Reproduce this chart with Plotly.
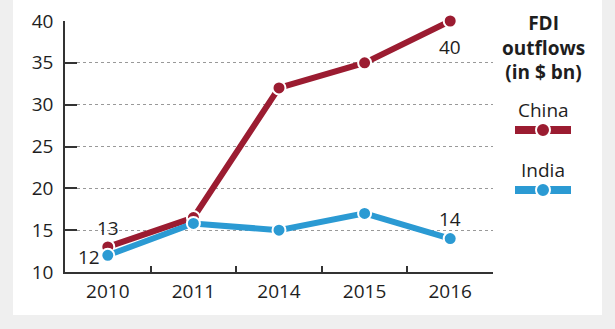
import plotly.graph_objects as go

years = ["2010", "2011", "2014", "2015", "2016"]
china = [13, 16.5, 32, 35, 40]
india = [12, 15.8, 15, 17, 14]
y_ticks = [10, 15, 20, 25, 30, 35, 40]

CHINA = "#9b1c31"
INDIA = "#2b9ad3"
TXT = "#1e1e1e"
FONT = "Open Sans"

W, H = 615, 329
def px(x):
    return x / W
def py(y):
    return (H - y) / H

fig = go.Figure()
for name, vals, col in [("China", china, CHINA), ("India", india, INDIA)]:
    fig.add_trace(go.Scatter(
        x=years, y=vals, mode="lines+markers", name=name,
        line=dict(color=col, width=6),
        marker=dict(size=13, color=col, line=dict(color="white", width=2)),
        cliponaxis=False, showlegend=False,
    ))

annotations = []
# value labels
labels = [
    (0, china[0], "13", 0, 19),
    (0, india[0], "12", -19, -2),
    (4, china[4], "40", 0, -26),
    (4, india[4], "14", 0, 20),
]
for xi, yv, t, xs, ys in labels:
    annotations.append(dict(xref="x", yref="y", x=xi, y=yv, text=t, showarrow=False,
                            xshift=xs, yshift=ys, xanchor="center", yanchor="middle",
                            font=dict(family=FONT, size=19, color=TXT)))

shapes = [
    dict(type="rect", xref="paper", yref="paper", x0=px(13), x1=px(602), y0=py(315), y1=1,
         fillcolor="white", line=dict(width=0), layer="below"),
]
# legend block
leg_x = 543
annotations.append(dict(xref="paper", yref="paper", x=px(leg_x), y=py(47),
                        text="<b>FDI<br>outflows<br>(in $ bn)</b>",
                        showarrow=False, align="center", xanchor="center", yanchor="middle",
                        font=dict(family=FONT, size=19, color=TXT)))
for name, col, ty, sy in [("China", CHINA, 110, 130), ("India", INDIA, 170, 190)]:
    annotations.append(dict(xref="paper", yref="paper", x=px(leg_x), y=py(ty), text=name,
                            showarrow=False, xanchor="center", yanchor="middle",
                            font=dict(family=FONT, size=19, color=TXT)))
    shapes.append(dict(type="line", xref="paper", yref="paper", x0=px(515), x1=px(571),
                       y0=py(sy), y1=py(sy), line=dict(color=col, width=8)))
    shapes.append(dict(type="circle", xref="paper", yref="paper", x0=px(leg_x - 7), x1=px(leg_x + 7),
                       y0=py(sy + 7), y1=py(sy - 7), fillcolor=col, line=dict(color="white", width=2)))

fig.update_layout(
    width=W, height=H, margin=dict(l=0, r=0, t=0, b=0, autoexpand=False),
    paper_bgcolor="#efefef", plot_bgcolor="white",
    shapes=shapes, annotations=annotations,
    xaxis=dict(domain=[px(65), px(493)], range=[-0.5, 4.5], type="category", automargin=False,
               showgrid=False, showline=True, linecolor="#333", linewidth=1.5,
               ticks="inside", tickson="boundaries", ticklen=6, tickcolor="#333", tickwidth=1.5,
               tickfont=dict(family=FONT, size=19, color=TXT), ticklabelstandoff=1, zeroline=False),
    yaxis=dict(domain=[py(272), py(21)], range=[10, 40], tickvals=y_ticks, automargin=False,
               showgrid=True, gridcolor="#999", griddash="dot", gridwidth=1,
               showline=True, linecolor="#333", linewidth=1.5,
               ticks="inside", ticklen=12, tickcolor="#333", tickwidth=1.5,
               tickfont=dict(family=FONT, size=19, color=TXT), ticklabelstandoff=6, zeroline=False),
)
fig.write_html("out.html")
